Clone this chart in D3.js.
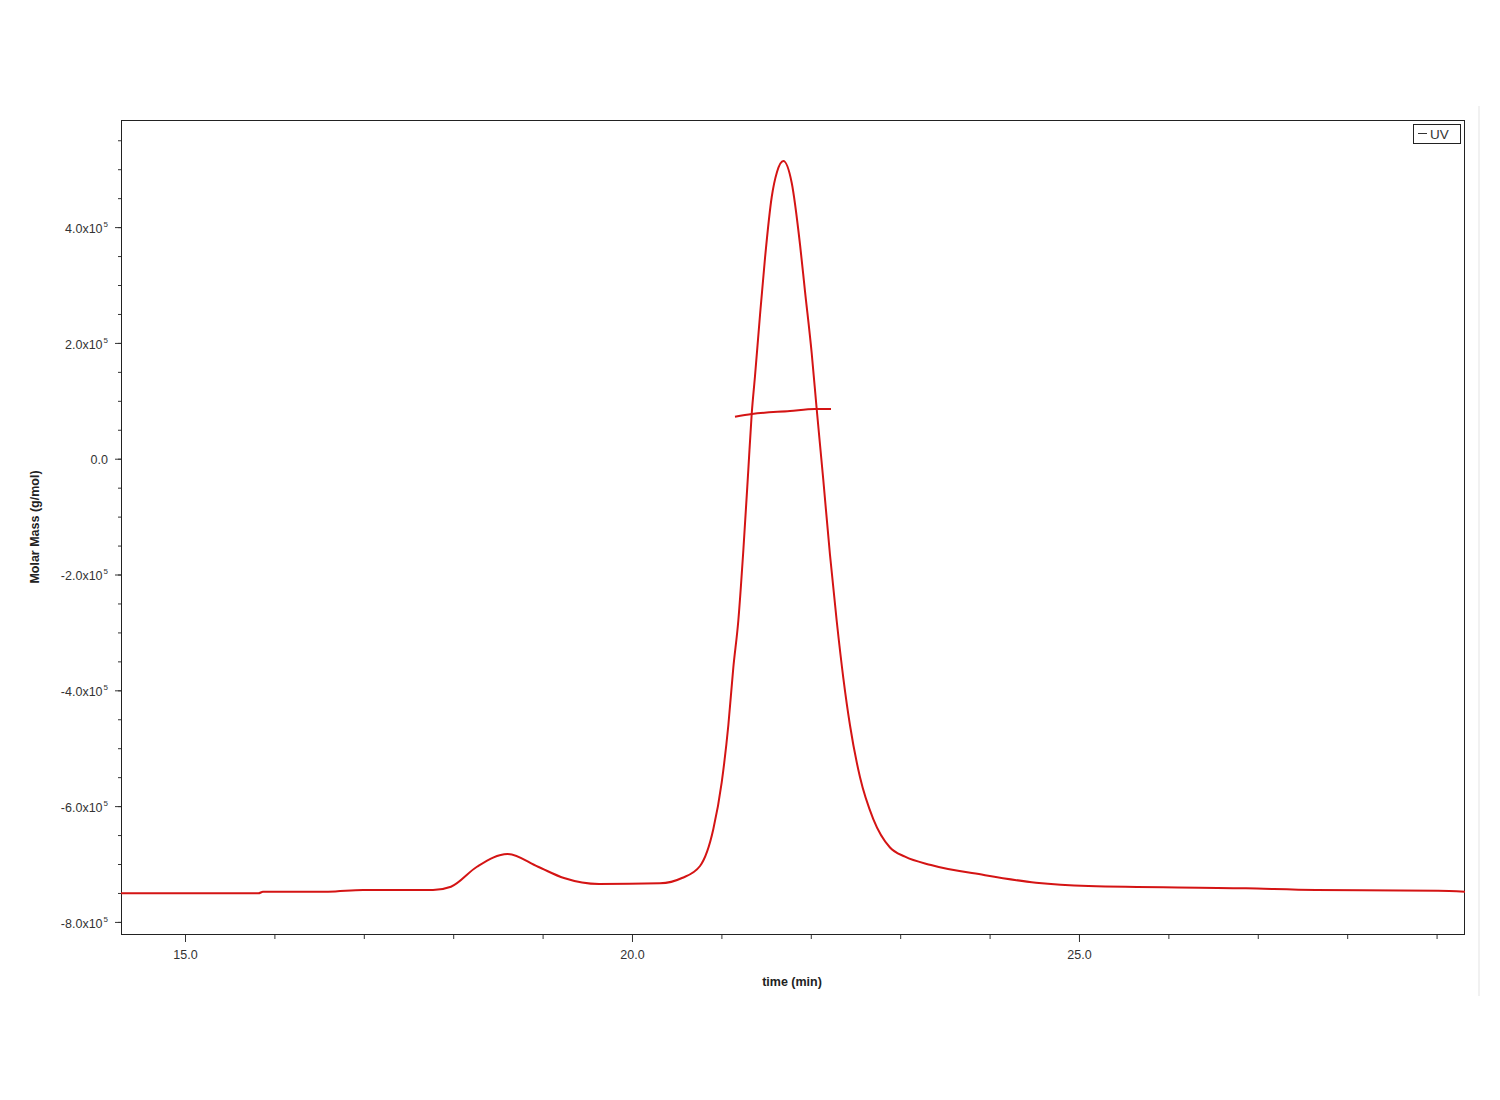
<!DOCTYPE html>
<html>
<head>
<meta charset="utf-8">
<script src="https://cdn.jsdelivr.net/npm/d3@7"></script>
<style>
  html, body { margin: 0; padding: 0; background: #fff; }
  svg { display: block; }
  text { font-family: "Liberation Sans", Arial, sans-serif; }
</style>
</head>
<body>
<svg id="chart" width="1500" height="1100"></svg>
<script>
// ---- data (time in min, signal plotted on Molar Mass axis in g/mol) ----
const uvTime = [14.284, 15.822, 15.872, 16.600, 16.991, 17.774, 17.975, 18.266, 18.607, 18.949,
  19.239, 19.631, 20.313, 20.559, 20.761, 20.910, 21.004, 21.078, 21.133, 21.189,
  21.245, 21.301, 21.339, 21.376, 21.432, 21.488, 21.563, 21.622, 21.693, 21.787,
  21.879, 21.935, 22.010, 22.066, 22.140, 22.215, 22.290, 22.364, 22.438, 22.550,
  22.699, 22.886, 23.054, 23.345, 23.937, 24.519, 25.106, 26.868, 27.651, 29.016, 29.318];
const uvValue = [-7.506e5, -7.506e5, -7.478e5, -7.478e5, -7.449e5, -7.449e5, -7.392e5, -7.047e5, -6.827e5, -7.047e5,
  -7.242e5, -7.346e5, -7.333e5, -7.242e5, -7.034e5, -6.396e5, -5.584e5, -4.599e5, -3.615e5, -2.803e5,
  -1.594e5, -0.195e5, 0.772e5, 1.429e5, 2.482e5, 3.467e5, 4.520e5, 4.952e5, 5.142e5, 4.762e5,
  3.708e5, 2.896e5, 1.826e5, 0.858e5, -0.368e5, -1.663e5, -2.803e5, -3.788e5, -4.599e5, -5.498e5,
  -6.223e5, -6.715e5, -6.874e5, -7.017e5, -7.190e5, -7.323e5, -7.380e5, -7.420e5, -7.449e5, -7.461e5, -7.478e5];
const massTime = [21.152, 21.342, 21.767, 22.047, 22.226];
const massValue = [0.725e5, 0.772e5, 0.824e5, 0.858e5, 0.858e5];
const xMajorTicks = [15, 20, 25];
const xMinorTicks = [15, 16, 17, 18, 19, 20, 21, 22, 23, 24, 25, 26, 27, 28, 29];
const yMajorTicks = [-8e5, -6e5, -4e5, -2e5, 0, 2e5, 4e5];
const yMinorTicks = d3.range(-8e5, 5.51e5, 0.5e5);
const xDomain = [14.284, 29.318];
const yDomain = [-8.226e5, 5.85e5];
const legendLabel = "UV";
const xTitle = "time (min)";
const yTitle = "Molar Mass (g/mol)";

// ---- layout ----
const L = 121, T = 120, R = 1465, B = 935;
const svg = d3.select("#chart");
const x = d3.scaleLinear().domain(xDomain).range([L, R]);
const y = d3.scaleLinear().domain(yDomain).range([B, T]);

// faint page edge line
svg.append("line").attr("x1", 1479).attr("x2", 1479).attr("y1", 106).attr("y2", 996)
  .attr("stroke", "#ececec").attr("stroke-width", 1.5);

// frame
svg.append("rect").attr("x", L + 0.5).attr("y", T + 0.5)
  .attr("width", R - L - 1).attr("height", B - T - 1)
  .attr("fill", "none").attr("stroke", "#222").attr("stroke-width", 1);

// X axis
const gx = svg.append("g").attr("transform", `translate(0,${B})`);
gx.call(d3.axisBottom(x).tickValues(xMinorTicks).tickSize(4).tickFormat(""));
gx.call(g => g.select(".domain").remove());
const gxM = svg.append("g").attr("transform", `translate(0,${B})`);
gxM.call(d3.axisBottom(x).tickValues(xMajorTicks).tickSize(7).tickPadding(8).tickFormat(d3.format(".1f")));
gxM.select(".domain").remove();
svg.selectAll("g.tick line").attr("stroke", "#333");
gxM.selectAll("text").attr("font-size", 12.5).attr("fill", "#333")
  .attr("font-family", "'Liberation Sans', Arial, sans-serif");

// Y axis
const gy = svg.append("g").attr("transform", `translate(${L},0)`);
gy.call(d3.axisLeft(y).tickValues(yMinorTicks).tickSize(3).tickFormat(""));
gy.select(".domain").remove();
const gyM = svg.append("g").attr("transform", `translate(${L},0)`);
gyM.call(d3.axisLeft(y).tickValues(yMajorTicks).tickSize(6).tickFormat(""));
gyM.select(".domain").remove();
svg.selectAll("g.tick line").attr("stroke", "#333");

// custom y tick labels with superscript exponent
gyM.selectAll("g.tick").each(function(d) {
  const t = d3.select(this).append("text")
    .attr("x", -13).attr("y", 0).attr("dy", "0.42em")
    .attr("text-anchor", "end").attr("font-size", 12.5).attr("fill", "#333");
  if (d === 0) {
    t.append("tspan").text("0.0");
  } else {
    const m = d / 1e5;
    t.append("tspan").text(m.toFixed(1) + "x10");
    t.append("tspan").attr("dy", "-0.75em").attr("dx", "1").attr("font-size", 8).text("5");
  }
});

// axis titles
svg.append("text").attr("x", 792).attr("y", 986).attr("text-anchor", "middle")
  .attr("font-size", 12.5).attr("font-weight", "bold").attr("fill", "#222").text(xTitle);
svg.append("text").attr("transform", "translate(39,527) rotate(-90)")
  .attr("text-anchor", "middle").attr("font-size", 12.5).attr("font-weight", "bold")
  .attr("fill", "#222").text(yTitle);

// clip
svg.append("clipPath").attr("id", "clip").append("rect")
  .attr("x", L).attr("y", T).attr("width", R - L).attr("height", B - T);

const uvData = uvTime.map((t, i) => [t, uvValue[i]]);
const massData = massTime.map((t, i) => [t, massValue[i]]);
const line = d3.line().x(d => x(d[0])).y(d => y(d[1])).curve(d3.curveMonotoneX);

svg.append("path").datum(uvData).attr("clip-path", "url(#clip)")
  .attr("d", line).attr("fill", "none").attr("stroke", "#d41414").attr("stroke-width", 2)
  .attr("stroke-linejoin", "round");
svg.append("path").datum(massData).attr("clip-path", "url(#clip)")
  .attr("d", line).attr("fill", "none").attr("stroke", "#d41414").attr("stroke-width", 2);

// legend
const lg = svg.append("g").attr("transform", "translate(1413,124)");
lg.append("rect").attr("x", 0.5).attr("y", 0.5).attr("width", 47).attr("height", 19)
  .attr("fill", "#fff").attr("stroke", "#222").attr("stroke-width", 1);
lg.append("line").attr("x1", 5).attr("x2", 14).attr("y1", 9.5).attr("y2", 9.5)
  .attr("stroke", "#333").attr("stroke-width", 1);
lg.append("text").attr("x", 17).attr("y", 14.5).attr("font-size", 13.5)
  .attr("fill", "#333").text(legendLabel);
</script>
</body>
</html>
